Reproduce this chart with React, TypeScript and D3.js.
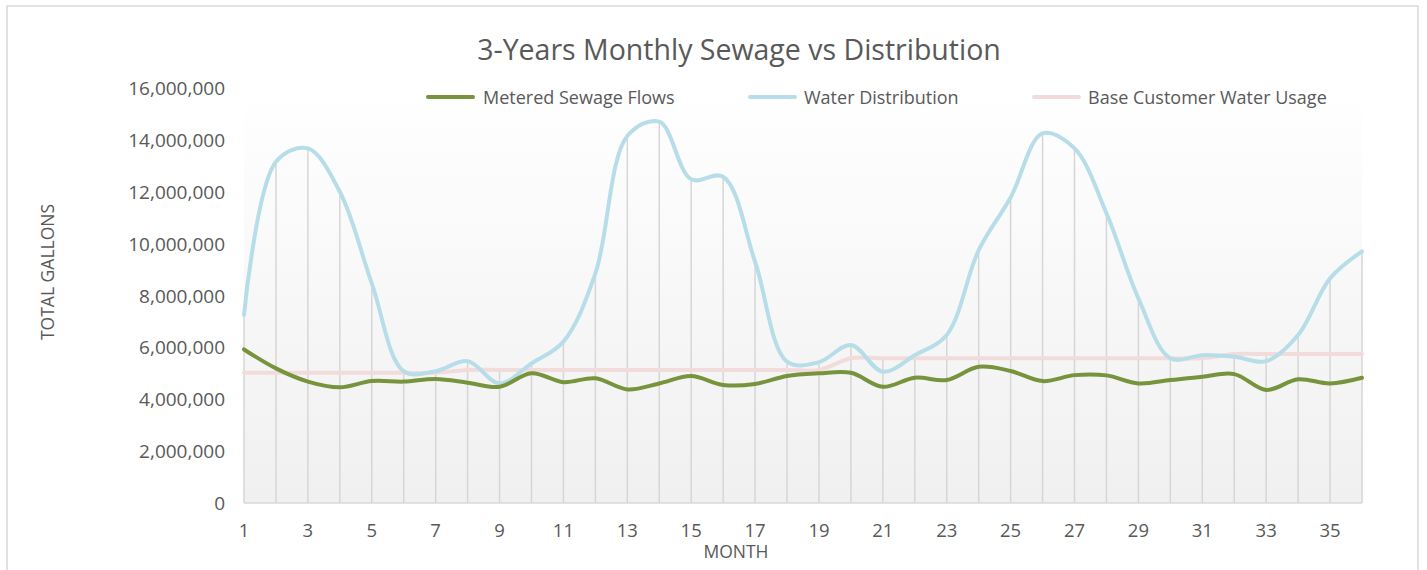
import React, { useEffect } from 'react';
import * as d3 from 'd3';

// month index 1..36
const months = d3.range(1, 37);

const sewageFlows = [
  5.92, 5.19, 4.68, 4.46, 4.7, 4.68, 4.78, 4.64, 4.48, 5.0, 4.66, 4.81,
  4.38, 4.61, 4.9, 4.55, 4.59, 4.9, 5.0, 5.02, 4.48, 4.83, 4.74, 5.25,
  5.09, 4.7, 4.93, 4.92, 4.61, 4.74, 4.87, 4.97, 4.36, 4.77, 4.61, 4.83,
].map(v => v * 1e6);

const waterDistribution = [
  7.25, 13.16, 13.67, 12.0, 8.47, 5.08, 5.08, 5.47, 4.61, 5.38, 6.22, 8.85,
  14.15, 14.7, 12.48, 12.58, 9.3, 5.45, 5.43, 6.09, 5.06, 5.7, 6.48, 9.75,
  11.78, 14.25, 13.67, 11.17, 7.89, 5.58, 5.7, 5.64, 5.47, 6.48, 8.66, 9.7,
].map(v => v * 1e6);

const baseUsage = [
  5.02, 5.02, 5.02, 5.02, 5.02, 5.02, 5.02, 5.13, 5.13, 5.13, 5.13, 5.13,
  5.13, 5.13, 5.13, 5.13, 5.13, 5.13, 5.13, 5.58, 5.58, 5.58, 5.58, 5.58,
  5.58, 5.58, 5.58, 5.58, 5.58, 5.58, 5.58, 5.74, 5.74, 5.74, 5.74, 5.74,
].map(v => v * 1e6);

const yTicks = [0, 2e6, 4e6, 6e6, 8e6, 10e6, 12e6, 14e6, 16e6];
const xTicks = months.filter(m => m % 2 === 1);

const series = [
  { name: 'Metered Sewage Flows', values: sewageFlows, color: '#77933c' },
  { name: 'Water Distribution', values: waterDistribution, color: '#b7dee8' },
  { name: 'Base Customer Water Usage', values: baseUsage, color: '#f2dcdb' },
];

const W = 1427;
const H = 570;
const margin = { left: 244, right: 1362, top: 88, bottom: 503 };
const font = '"Open Sans", sans-serif';
const textColor = '#595959';

const App: React.FC = () => {
  useEffect(() => {
    document.body.style.margin = '0';
  }, []);

  const x = d3.scaleLinear().domain([1, 36]).range([margin.left, margin.right]);
  const y = d3.scaleLinear().domain([0, 16e6]).range([margin.bottom, margin.top]);
  const fmt = d3.format(',');

  const line = d3.line<number>()
    .x((_, i) => x(months[i]))
    .y(d => y(d))
    .curve(d3.curveCatmullRom.alpha(0.5));

  // draw order: base usage under the others
  const drawOrder = [series[2], series[1], series[0]];

  const legendItems = [
    { s: series[0], x0: 428, tx: 483 },
    { s: series[1], x0: 750, tx: 804 },
    { s: series[2], x0: 1034, tx: 1088 },
  ];

  return (
    <svg width={W} height={H} style={{ display: 'block', background: '#fff' }}>
      <defs>
        <linearGradient id="plotBg" x1="0" y1="0" x2="0" y2="1">
          <stop offset="0%" stopColor="#ffffff" />
          <stop offset="100%" stopColor="#f0f0f0" />
        </linearGradient>
      </defs>
      <rect x={7} y={6} width={1411} height={H} fill="#fff" stroke="#d9d9d9" strokeWidth={1.5} />

      <text x={739} y={49} textAnchor="middle" dominantBaseline="central"
        fontFamily={font} fontSize={28.5} fill={textColor}>
        3-Years Monthly Sewage vs Distribution
      </text>

      {/* plot background */}
      <rect x={margin.left} y={margin.top} width={margin.right - margin.left}
        height={margin.bottom - margin.top} fill="url(#plotBg)" />

      {/* drop lines */}
      {months.map((m, i) => {
        const top = Math.max(sewageFlows[i], waterDistribution[i], baseUsage[i]);
        return (
          <line key={m} x1={x(m)} x2={x(m)} y1={y(0)} y2={y(top)}
            stroke="#d6d6d6" strokeWidth={1.5} />
        );
      })}
      <line x1={margin.left} x2={margin.right} y1={y(0)} y2={y(0)} stroke="#d9d9d9" strokeWidth={1.5} />

      {/* y axis labels */}
      {yTicks.map(t => (
        <text key={t} x={225} y={y(t)} textAnchor="end" dominantBaseline="central"
          fontFamily={font} fontSize={19} fill={textColor}>
          {fmt(t)}
        </text>
      ))}
      {/* x axis labels */}
      {xTicks.map(t => (
        <text key={t} x={x(t)} y={529} textAnchor="middle" dominantBaseline="central"
          fontFamily={font} fontSize={18.5} fill={textColor}>
          {t}
        </text>
      ))}

      <text x={736} y={551} textAnchor="middle" dominantBaseline="central"
        fontFamily={font} fontSize={17.5} fill={textColor}>MONTH</text>
      <text transform={`translate(47,272) rotate(-90)`} textAnchor="middle" dominantBaseline="central"
        fontFamily={font} fontSize={17.5} fill={textColor}>TOTAL GALLONS</text>

      {/* series */}
      {drawOrder.map(s => (
        <path key={s.name} d={line(s.values) ?? ''} fill="none" stroke={s.color}
          strokeWidth={4} strokeLinecap="round" strokeLinejoin="round" />
      ))}

      {/* legend */}
      {legendItems.map(({ s, x0, tx }) => (
        <g key={s.name}>
          <line x1={x0} x2={x0 + 45} y1={97} y2={97} stroke={s.color} strokeWidth={4} strokeLinecap="round" />
          <text x={tx} y={97} dominantBaseline="central" fontFamily={font} fontSize={18}
            fill={textColor}>{s.name}</text>
        </g>
      ))}
    </svg>
  );
};

export default App;
